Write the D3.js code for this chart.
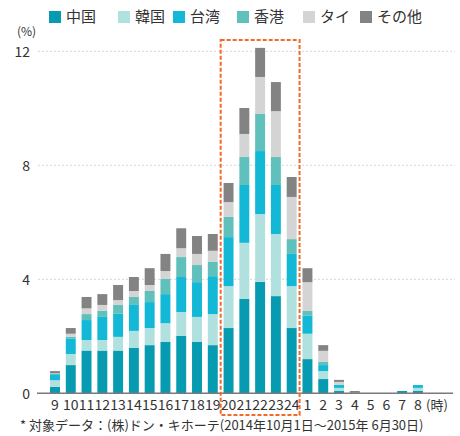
<!DOCTYPE html>
<html>
<head>
<meta charset="utf-8">
<script src="https://cdn.jsdelivr.net/npm/d3@7"></script>
<style>
  html, body { margin: 0; padding: 0; background: #fff; }
  svg { display: block; font-family: "Noto Sans CJK JP", "Noto Sans", sans-serif; }
</style>
</head>
<body>
<svg id="chart" width="460" height="436"></svg>
<script>
// 時間帯（9時〜翌8時）
const hours = ["9","10","11","12","13","14","15","16","17","18","19","20","21","22","23","24","1","2","3","4","5","6","7","8"];

// 国・地域別の構成比（%）
const china  = [0.23,0.99,1.50,1.50,1.50,1.59,1.69,1.80,2.01,1.80,1.69,2.29,3.31,3.91,3.41,2.29,1.20,0.50,0.08,0.02,0,0,0.08,0.08];
const korea  = [0.23,0.39,0.37,0.37,0.48,0.60,0.60,0.66,0.84,0.88,1.09,1.47,1.97,2.38,2.18,1.47,0.89,0.28,0.11,0,0,0,0,0.11];
const taiwan = [0.21,0.53,0.70,0.81,0.81,0.91,0.91,1.02,1.23,1.22,1.33,1.72,2.03,2.21,1.72,1.13,0.63,0.21,0.10,0,0,0,0,0.10];
const hongkong = [0.01,0.07,0.21,0.21,0.31,0.28,0.39,0.53,0.70,0.60,0.50,0.71,0.98,1.30,0.98,0.52,0.17,0.11,0.02,0,0,0,0,0];
const thai   = [0.02,0.11,0.20,0.21,0.17,0.21,0.21,0.28,0.31,0.39,0.39,0.52,0.81,1.30,1.61,1.48,1.01,0.39,0.09,0,0,0,0,0];
const others = [0.08,0.20,0.40,0.38,0.53,0.49,0.59,0.60,0.70,0.63,0.59,0.67,0.91,1.02,1.02,0.70,0.49,0.20,0.07,0.06,0,0,0,0];

const seriesNames = ["中国","韓国","台湾","香港","タイ","その他"];
const seriesColors = ["#069bb1","#b1e1df","#14b8d7","#60c0bc","#d4d4d4","#838383"];
const yTicks = [0, 4, 8, 12];
const highlightHours = ["20","24"];
const footnote = "* 対象データ：(株)ドン・キホーテ(2014年10月1日～2015年 6月30日)";

const seriesValues = [china, korea, taiwan, hongkong, thai, others];
const rows = hours.map((h, i) => {
  const r = { hour: h };
  seriesNames.forEach((n, k) => r[n] = seriesValues[k][i]);
  return r;
});

const svg = d3.select("#chart");
const font = '"Noto Sans CJK JP", "Noto Sans", sans-serif';

const x = d3.scaleBand()
  .domain(hours)
  .range([47.1, 425.8])
  .paddingInner(0.37)
  .paddingOuter(0.185);

const y = d3.scaleLinear().domain([0, 12]).range([393.3, 51.3]);

// 補助線
svg.append("g").selectAll("line")
  .data(yTicks.filter(d => d > 0))
  .join("line")
  .attr("x1", 38).attr("x2", 455)
  .attr("y1", d => y(d)).attr("y2", d => y(d))
  .attr("stroke", "#d6d6d6")
  .attr("stroke-width", 1)
  .attr("stroke-dasharray", "2,2");

// 積み上げ棒
const stack = d3.stack().keys(seriesNames)(rows);
svg.append("g").selectAll("g")
  .data(stack)
  .join("g")
  .attr("fill", (d, i) => seriesColors[i])
  .selectAll("rect")
  .data(d => d)
  .join("rect")
  .attr("x", d => x(d.data.hour))
  .attr("width", x.bandwidth())
  .attr("y", d => y(d[1]))
  .attr("height", d => Math.max(0, y(d[0]) - y(d[1])));

// 横軸
svg.append("line")
  .attr("x1", 37).attr("x2", 453)
  .attr("y1", y(0)).attr("y2", y(0))
  .attr("stroke", "#7a7a7a")
  .attr("stroke-width", 1.5);

const xAxis = d3.axisBottom(x).tickSize(0).tickPadding(0);
const gx = svg.append("g").attr("transform", `translate(0,${y(0)})`).call(xAxis);
gx.select(".domain").remove();
gx.selectAll("text")
  .attr("y", 17)
  .attr("dy", 0)
  .attr("fill", "#333")
  .style("font-size", "14px")
  .style("font-family", font);

svg.append("text")
  .attr("x", 437).attr("y", y(0) + 17)
  .attr("text-anchor", "middle")
  .attr("fill", "#333")
  .style("font-size", "13px")
  .text("(時)");

// 縦軸ラベル
const yAxis = d3.axisLeft(y).tickValues(yTicks).tickSize(0).tickPadding(0);
const gy = svg.append("g").attr("transform", "translate(30,0)").call(yAxis);
gy.select(".domain").remove();
gy.selectAll("text")
  .attr("dy", "0.36em")
  .attr("fill", "#333")
  .style("font-size", "14px")
  .style("font-family", font);

svg.append("text")
  .attr("x", 17).attr("y", 36)
  .attr("fill", "#333")
  .style("font-size", "12px")
  .text("(%)");

// 夜間帯の強調枠
const step = x.step();
const hx0 = x(highlightHours[0]) - step * x.paddingOuter();
const hx1 = x(highlightHours[1]) + x.bandwidth() + step * x.paddingOuter();
svg.append("rect")
  .attr("x", hx0).attr("y", 40)
  .attr("width", hx1 - hx0).attr("height", 375)
  .attr("fill", "none")
  .attr("stroke", "#f26a2a")
  .attr("stroke-width", 2)
  .attr("stroke-dasharray", "4,2");

// 凡例
const legendX = [49, 118, 173, 237, 303, 360];
const legend = svg.append("g").selectAll("g")
  .data(seriesNames)
  .join("g")
  .attr("transform", (d, i) => `translate(${legendX[i]},11)`);
legend.append("rect")
  .attr("width", 12).attr("height", 12)
  .attr("fill", (d, i) => seriesColors[i]);
legend.append("text")
  .attr("x", 17).attr("y", 11)
  .attr("fill", "#333")
  .style("font-size", "15px")
  .text(d => d);

// 注記
svg.append("text")
  .attr("x", 20).attr("y", 430)
  .attr("fill", "#333")
  .style("font-size", "13px")
  .text(footnote);
</script>
</body>
</html>
